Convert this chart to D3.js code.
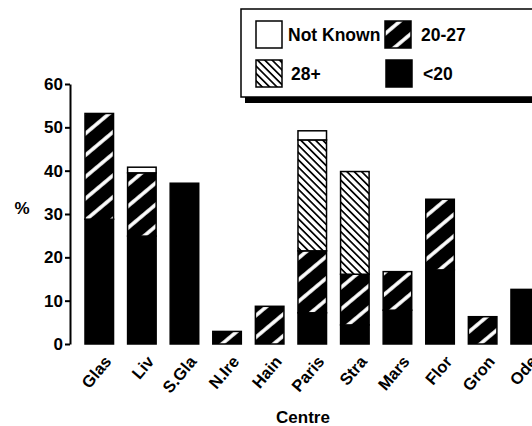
<!DOCTYPE html>
<html>
<head>
<meta charset="utf-8">
<script src="https://cdn.jsdelivr.net/npm/d3@7"></script>
<style>
  body { margin: 0; background: #fff; }
  svg { display: block; font-family: "Liberation Sans", Arial, Helvetica, sans-serif; font-weight: bold; }
</style>
</head>
<body>
<div id="chart"></div>
<script>
// centres along the x axis
var centres = ['Glas', 'Liv', 'S.Gla', 'N.Ire', 'Hain', 'Paris', 'Stra', 'Mars', 'Flor', 'Gron', 'Ode'];
// % in each age group, stacked bottom to top
var under20   = [28.8, 24.9, 37.1, 0,   0,   7.2,  4.4,  7.8, 17.1, 0,   12.6];
var age20to27 = [24.4, 14.6, 0,    2.9, 8.7, 14.3, 11.7, 8.9, 16.3, 6.3, 0];
var age28plus = [0,    0,    0,    0,   0,   25.6, 23.7, 0,   0,    0,   0];
var notKnown  = [0,    1.3,  0,    0,   0,   2.1,  0,    0,   0,    0,   0];
var yTicks = [0, 10, 20, 30, 40, 50, 60];
var legendLabels = ['Not Known', '20-27', '28+', '<20'];

var W = 532, H = 426;
var svg = d3.select('#chart').append('svg').attr('width', W).attr('height', H);

var defs = svg.append('defs');
// black with white "/" stripes
var p1 = defs.append('pattern').attr('id', 'hatch2027').attr('patternUnits', 'userSpaceOnUse')
  .attr('width', 16.6).attr('height', 16.6).attr('patternTransform', 'rotate(-40)');
p1.append('rect').attr('width', 16.6).attr('height', 16.6).attr('fill', '#000');
p1.append('rect').attr('y', 6).attr('width', 16.6).attr('height', 3.6).attr('fill', '#fff');
// white with black "\" lines
var p2 = defs.append('pattern').attr('id', 'hatch28').attr('patternUnits', 'userSpaceOnUse')
  .attr('width', 5.2).attr('height', 5.2).attr('patternTransform', 'rotate(45)');
p2.append('rect').attr('width', 5.2).attr('height', 5.2).attr('fill', '#fff');
p2.append('rect').attr('y', 0).attr('width', 5.2).attr('height', 1.7).attr('fill', '#000');

var fills = { under20: '#000', age20to27: 'url(#hatch2027)', age28plus: 'url(#hatch28)', notKnown: '#fff' };
var keys = ['under20', 'age20to27', 'age28plus', 'notKnown'];

var x = d3.scaleBand().domain(centres).range([70, 554.5]).paddingInner(0.33).paddingOuter(0.352);
var y = d3.scaleLinear().domain([0, 60]).range([344, 84]);

var rows = centres.map(function(c, i) {
  return { centre: c, under20: under20[i], age20to27: age20to27[i], age28plus: age28plus[i], notKnown: notKnown[i] };
});
var series = d3.stack().keys(keys)(rows);

var g = svg.append('g');
series.forEach(function(s) {
  g.selectAll(null).data(s.filter(function(d) { return d[1] - d[0] > 0; })).enter().append('rect')
    .attr('x', function(d) { return x(d.data.centre); })
    .attr('y', function(d) { return y(d[1]); })
    .attr('width', x.bandwidth())
    .attr('height', function(d) { return y(d[0]) - y(d[1]); })
    .attr('fill', fills[s.key])
    .attr('stroke', '#000').attr('stroke-width', 1.5);
});

// y axis
var yAxis = svg.append('g').attr('transform', 'translate(70,0)')
  .call(d3.axisLeft(y).tickValues(yTicks).tickSize(5).tickSizeOuter(0).tickPadding(2));
yAxis.select('.domain').attr('stroke-width', 2);
yAxis.selectAll('.tick line').attr('stroke-width', 2);
yAxis.selectAll('text').attr('font-size', 17).attr('font-weight', 'bold')
  .attr('font-family', '"Liberation Sans", Arial, sans-serif').attr('fill', '#000');

svg.append('text').attr('x', 22).attr('y', 214).attr('text-anchor', 'middle')
  .attr('font-size', 17).text('%');

// category labels
svg.append('g').selectAll('text').data(centres).enter().append('text')
  .attr('transform', function(d) {
    return 'translate(' + (x(d) + x.bandwidth() / 2 + 13) + ',362) rotate(-50)';
  })
  .attr('text-anchor', 'end').attr('font-size', 16.5).text(function(d) { return d; });

svg.append('text').attr('x', 303).attr('y', 423).attr('text-anchor', 'middle')
  .attr('font-size', 17).text('Centre');

// legend
var lg = svg.append('g');
lg.append('rect').attr('x', 245).attr('y', 14).attr('width', 320).attr('height', 89).attr('fill', '#000');
lg.append('rect').attr('x', 241).attr('y', 9).attr('width', 320).attr('height', 88)
  .attr('fill', '#fff').attr('stroke', '#000').attr('stroke-width', 1.5);
var legendFills = ['#fff', 'url(#hatch2027)', 'url(#hatch28)', '#000'];
var legendPos = [[256, 21, 288], [385, 21, 421], [256, 60, 291], [386, 60, 423]];
legendLabels.forEach(function(lab, i) {
  var p = legendPos[i];
  lg.append('rect').attr('x', p[0]).attr('y', p[1]).attr('width', 26).attr('height', 27)
    .attr('fill', legendFills[i]).attr('stroke', '#000').attr('stroke-width', 1.5);
  lg.append('text').attr('x', p[2]).attr('y', p[1] + 20).attr('font-size', 17.5).text(lab);
});
</script>
</body>
</html>
